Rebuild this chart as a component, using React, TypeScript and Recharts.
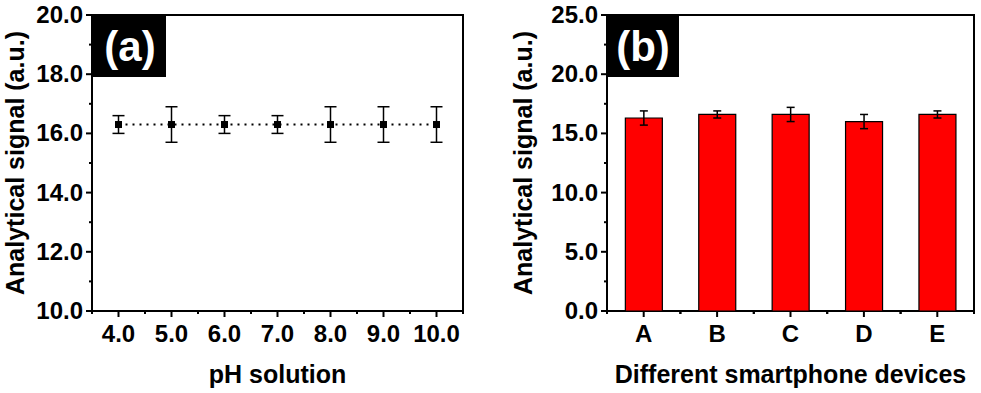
import React from 'react';
import {
  ComposedChart,
  BarChart,
  Bar,
  Line,
  XAxis,
  YAxis,
  ErrorBar,
  ReferenceArea,
  Label,
} from 'recharts';

// ---- Panel (a): pH solution ----
const phValues = [4, 5, 6, 7, 8, 9, 10];
const phSignal = [16.3, 16.3, 16.3, 16.3, 16.3, 16.3, 16.3];
const phError = [0.3, 0.6, 0.3, 0.3, 0.6, 0.6, 0.6];
const phTicks = [3.5, 4, 4.5, 5, 5.5, 6, 6.5, 7, 7.5, 8, 8.5, 9, 9.5, 10, 10.5];
const phYTicks = [10, 11, 12, 13, 14, 15, 16, 17, 18, 19, 20];

// ---- Panel (b): smartphone devices ----
const devices = ['A', 'B', 'C', 'D', 'E'];
const deviceSignal = [16.3, 16.6, 16.6, 16.0, 16.6];
const deviceError = [0.6, 0.3, 0.6, 0.6, 0.3];
const devYTicks = [0, 2.5, 5, 7.5, 10, 12.5, 15, 17.5, 20, 22.5, 25];

const phData = phValues.map((ph, i) => ({ ph, signal: phSignal[i], err: phError[i] }));
const devData = devices.map((device, i) => ({ device, signal: deviceSignal[i], err: deviceError[i] }));

const FONT = "'Liberation Sans', Arial, Helvetica, sans-serif";
const textStyle = { fontFamily: FONT, fontWeight: 700, fontSize: 24, fill: '#000' } as const;
const titleStyle = { fontFamily: FONT, fontWeight: 700, fontSize: 25, fill: '#000' } as const;

const isMult = (v: number, m: number) => Math.abs(v / m - Math.round(v / m)) < 1e-9;

const makeYTick = (majorStep: number) => (props: any) => {
  const { x, y, payload } = props;
  const v = payload.value as number;
  const major = isMult(v, majorStep);
  return (
    <g>
      <line x1={x - (major ? 6 : 3)} x2={x} y1={y} y2={y} stroke="#000" strokeWidth={2} />
      {major && (
        <text x={x - 9} y={y} dy={8} textAnchor="end" style={textStyle}>
          {v.toFixed(1)}
        </text>
      )}
    </g>
  );
};

const XTickA = (props: any) => {
  const { x, y, payload } = props;
  const v = payload.value as number;
  const major = isMult(v, 1);
  return (
    <g>
      <line x1={x} x2={x} y1={y} y2={y + (major ? 6 : 3)} stroke="#000" strokeWidth={2} />
      {major && (
        <text x={x} y={y + 31} textAnchor="middle" style={textStyle}>
          {v.toFixed(1)}
        </text>
      )}
    </g>
  );
};

const XTickB = (props: any) => {
  const { x, y, payload, width, visibleTicksCount } = props;
  const band = Number(width) / Number(visibleTicksCount);
  const hasBand = Number.isFinite(band) && band > 0;
  return (
    <g>
      <line x1={x} x2={x} y1={y} y2={y + 6} stroke="#000" strokeWidth={2} />
      {hasBand && (
        <>
          <line x1={x - band / 2} x2={x - band / 2} y1={y} y2={y + 3} stroke="#000" strokeWidth={2} />
          <line x1={x + band / 2} x2={x + band / 2} y1={y} y2={y + 3} stroke="#000" strokeWidth={2} />
        </>
      )}
      <text x={x} y={y + 31} textAnchor="middle" style={textStyle}>
        {payload.value}
      </text>
    </g>
  );
};

const yTitle = (baselineX: number) => (p: any) => {
  const vb = p.viewBox || {};
  const cy = (vb.y ?? 0) + (vb.height ?? 0) / 2;
  const x = (vb.x ?? 0) + baselineX;
  return (
    <text x={x} y={cy} transform={`rotate(-90 ${x} ${cy})`} textAnchor="middle" style={titleStyle}>
      Analytical signal (a.u.)
    </text>
  );
};

const SquareDot = (props: any) => {
  const { cx, cy, index } = props;
  if (cx == null || cy == null) return <g key={index} />;
  return <rect key={index} x={cx - 3.5} y={cy - 3.5} width={7} height={7} fill="#000" />;
};

export default function App() {
  return (
    <div
      style={{
        position: 'absolute',
        left: 0,
        top: 0,
        width: 981,
        height: 393,
        background: '#fff',
        overflow: 'hidden',
      }}
    >
      <div style={{ position: 'absolute', left: 0, top: 0 }}>
        <ComposedChart width={490} height={393} data={phData} margin={{ top: 15, right: 27, left: 0, bottom: 0 }}>
          <XAxis
            dataKey="ph"
            type="number"
            domain={[3.5, 10.5]}
            ticks={phTicks}
            interval={0}
            tickSize={0}
            tickMargin={0}
            tickLine={false}
            axisLine={false}
            tick={XTickA}
            height={82}
          >
            <Label value="pH solution" position="insideBottom" offset={10} style={titleStyle} />
          </XAxis>
          <YAxis
            type="number"
            domain={[10, 20]}
            ticks={phYTicks}
            interval={0}
            tickSize={0}
            tickMargin={0}
            tickLine={false}
            axisLine={false}
            tick={makeYTick(2)}
            width={92}
          >
            <Label content={yTitle(23.5)} />
          </YAxis>
          <ReferenceArea
            x1={3.5}
            x2={10.5}
            y1={10}
            y2={20}
            fill="none"
            fillOpacity={0}
            stroke="#000"
            strokeWidth={2}
            ifOverflow="visible"
          />
          <Line
            dataKey="signal"
            stroke="#000"
            strokeWidth={1.8}
            strokeDasharray="2 5"
            dot={SquareDot}
            activeDot={false}
            isAnimationActive={false}
          >
            <ErrorBar dataKey="err" direction="y" width={6} stroke="#000" strokeWidth={1.5} />
          </Line>
        </ComposedChart>
      </div>

      <div style={{ position: 'absolute', left: 490, top: 0 }}>
        <BarChart
          width={491}
          height={393}
          data={devData}
          margin={{ top: 15, right: 7, left: 0, bottom: 0 }}
          barCategoryGap="25%"
        >
          <XAxis
            dataKey="device"
            interval={0}
            tickSize={0}
            tickMargin={0}
            tickLine={false}
            axisLine={false}
            tick={XTickB}
            height={82}
          >
            <Label value="Different smartphone devices" position="insideBottom" offset={10} style={titleStyle} />
          </XAxis>
          <YAxis
            type="number"
            domain={[0, 25]}
            ticks={devYTicks}
            interval={0}
            tickSize={0}
            tickMargin={0}
            tickLine={false}
            axisLine={false}
            tick={makeYTick(5)}
            width={117}
          >
            <Label content={yTitle(42)} />
          </YAxis>
          <Bar dataKey="signal" fill="#ff0000" stroke="#000" strokeWidth={1.2} isAnimationActive={false}>
            <ErrorBar dataKey="err" direction="y" width={4} stroke="#000" strokeWidth={1.5} />
          </Bar>
          <ReferenceArea
            x1="A"
            x2="E"
            y1={0}
            y2={25}
            fill="none"
            fillOpacity={0}
            stroke="#000"
            strokeWidth={2}
            ifOverflow="visible"
          />
        </BarChart>
      </div>

      <svg
        width={981}
        height={393}
        style={{ position: 'absolute', left: 0, top: 0, pointerEvents: 'none' }}
      >
        <rect x={93} y={15} width={73} height={62} fill="#000" />
        <text x={130} y={61} textAnchor="middle" style={{ fontFamily: FONT, fontWeight: 700, fontSize: 42, fill: '#fff' }}>
          (a)
        </text>
        <rect x={608} y={15} width={71} height={62} fill="#000" />
        <text x={643} y={61} textAnchor="middle" style={{ fontFamily: FONT, fontWeight: 700, fontSize: 42, fill: '#fff' }}>
          (b)
        </text>
      </svg>
    </div>
  );
}
